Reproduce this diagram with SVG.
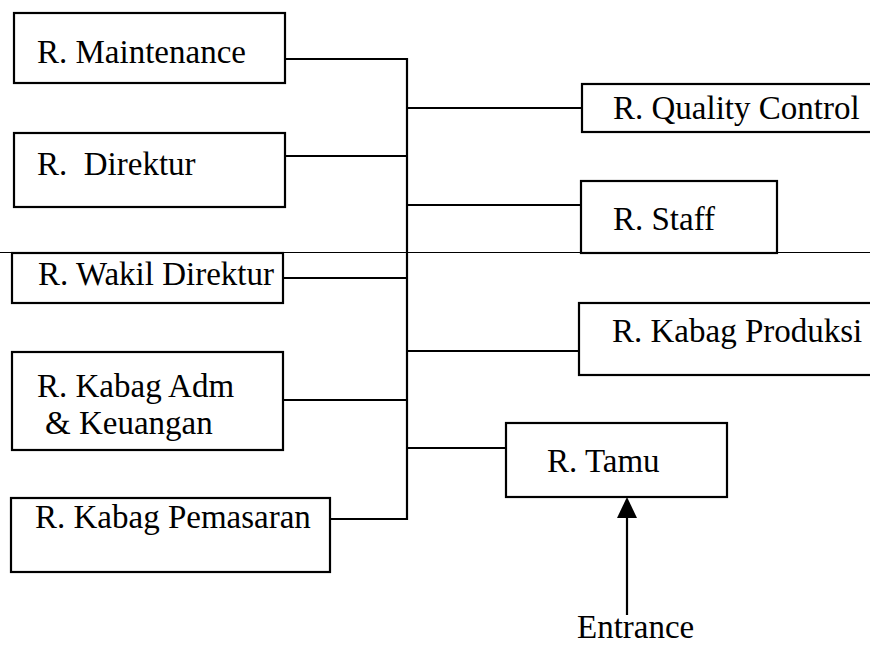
<svg xmlns="http://www.w3.org/2000/svg" width="870" height="645" viewBox="0 0 870 645">
<style>
.box{fill:#fff;stroke:#000;stroke-width:2.2}
.ln{fill:none;stroke:#000;stroke-width:2.2}
.thin{fill:none;stroke:#000;stroke-width:1}
</style>
<line class="thin" x1="0" y1="252.5" x2="870" y2="252.5"/>
<g id="connectors">
<polyline class="ln" points="285,59 407,59 407,519 330,519"/>
<line class="ln" x1="285" y1="156" x2="407" y2="156"/>
<line class="ln" x1="283" y1="278" x2="407" y2="278"/>
<line class="ln" x1="283" y1="400" x2="407" y2="400"/>
<line class="ln" x1="407" y1="108" x2="582" y2="108"/>
<line class="ln" x1="407" y1="205" x2="581" y2="205"/>
<line class="ln" x1="407" y1="351" x2="579" y2="351"/>
<line class="ln" x1="407" y1="448" x2="506" y2="448"/>
<path class="ln" d="M627,615 L627,516"/>
<path d="M617,518 L627,497 L637,518 Z" fill="#000"/>
</g>
<g font-family="'Liberation Serif', 'Times New Roman', Tinos, serif" font-size="33" fill="#000">
<g id="maintenance"><rect class="box" x="14" y="13" width="271" height="70"/><text x="37" y="63">R. Maintenance</text></g>
<g id="direktur"><rect class="box" x="14" y="133" width="271" height="74"/><text x="37" y="175" xml:space="preserve">R.  Direktur</text></g>
<g id="wakil"><rect class="box" x="12" y="253" width="271" height="50"/><text x="38" y="285">R. Wakil Direktur</text></g>
<g id="kabag-adm"><rect class="box" x="12" y="352" width="271" height="98"/><text x="37" y="397">R. Kabag Adm</text><text x="45" y="434">&amp; Keuangan</text></g>
<g id="pemasaran"><rect class="box" x="11" y="498" width="319" height="74"/><text x="35" y="528">R. Kabag Pemasaran</text></g>
<g id="quality"><rect class="box" x="582" y="84" width="300" height="48"/><text x="613" y="119">R. Quality Control</text></g>
<g id="staff"><rect class="box" x="581" y="181" width="196" height="72"/><text x="613" y="230">R. Staff</text></g>
<g id="produksi"><rect class="box" x="579" y="303" width="300" height="72"/><text x="612" y="342">R. Kabag Produksi</text></g>
<g id="tamu"><rect class="box" x="506" y="423" width="221" height="74"/><text x="547" y="472">R. Tamu</text></g>
<g id="entrance"><text x="577" y="638">Entrance</text></g>
</g>
</svg>
